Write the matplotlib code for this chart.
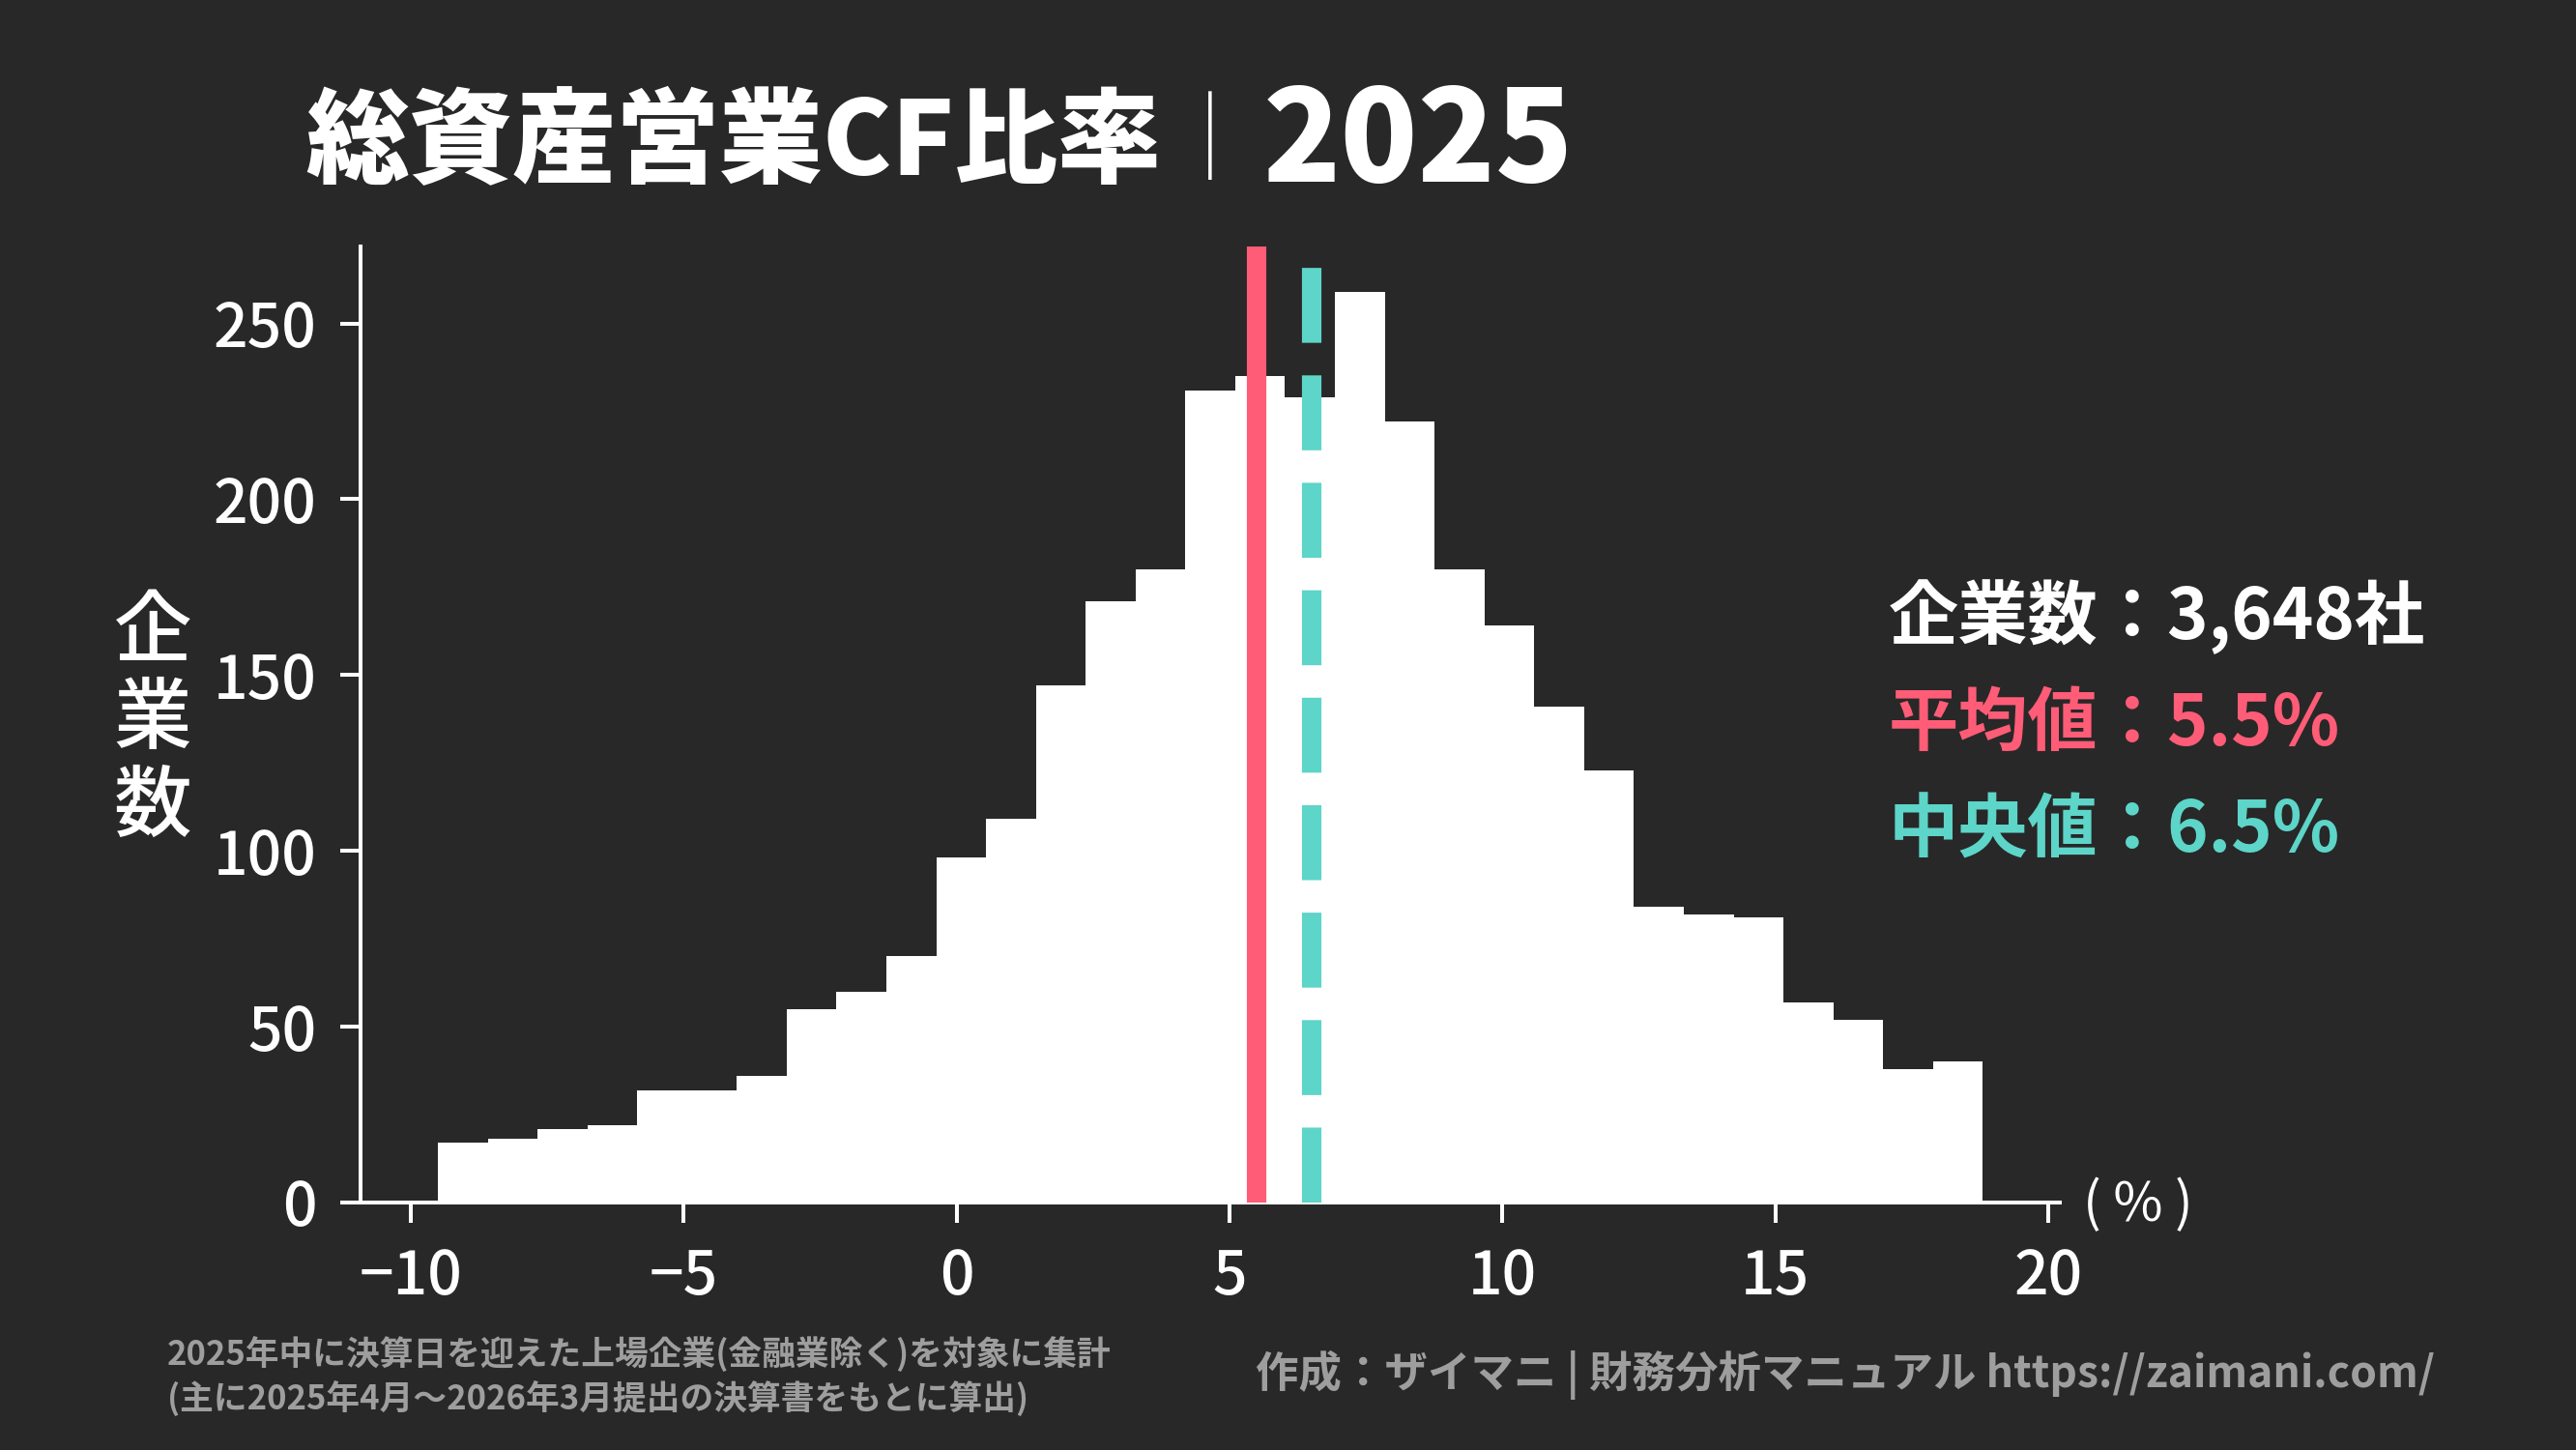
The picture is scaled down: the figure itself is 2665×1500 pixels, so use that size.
import numpy as np
import matplotlib
matplotlib.use("Agg")
import matplotlib.pyplot as plt

plt.rcParams['font.family'] = ['Noto Sans CJK JP', 'DejaVu Sans']

# ---- data ----
bin_range = (-9.5, 18.8)
n_bins = 31
counts = [17, 18, 21, 22, 32, 32, 36, 55, 60, 70, 98, 109, 147, 171, 180,
          231, 235, 229, 259, 222, 180, 164, 141, 123, 84, 82, 81, 57, 52, 38, 40]
mean_val = 5.5
median_val = 6.5
n_companies = 3648
title_main = "総資産営業CF比率"
title_year = "2025"
ylabel = "企業数"
xunit = "( % )"
note_left = "2025年中に決算日を迎えた上場企業(金融業除く)を対象に集計\n(主に2025年4月～2026年3月提出の決算書をもとに算出)"
note_right = "作成：ザイマニ | 財務分析マニュアル https://zaimani.com/"

BG = '#282828'
RED = '#FF5C77'
TEAL = '#5DD5C8'
GRAY = '#9E9E9E'

edges = np.linspace(bin_range[0], bin_range[1], n_bins + 1)

fig = plt.figure(figsize=(26.65, 15), dpi=100, facecolor=BG)
ax = fig.add_axes([0.14, 0.1707, 0.6597, 0.6595])
ax.set_facecolor(BG)

ax.bar(edges[:-1], counts, width=np.diff(edges), align='edge',
       color='white', linewidth=0, zorder=2)
ax.axvline(mean_val, color=RED, lw=14.5, zorder=3)
ax.axvline(median_val, color=TEAL, lw=14.5, zorder=3,
           linestyle=(0, (3.85, 1.67)))

for s in ['top', 'right']:
    ax.spines[s].set_visible(False)
for s in ['left', 'bottom']:
    ax.spines[s].set_color('white')
    ax.spines[s].set_linewidth(2.9)
ax.tick_params(colors='white', width=2.9, length=15, labelsize=45, pad=18)
ax.set_xticks([-10, -5, 0, 5, 10, 15, 20])
ax.set_yticks([0, 50, 100, 150, 200, 250])
for lab in ax.get_xticklabels() + ax.get_yticklabels():
    lab.set_fontweight('medium')

# title
fig.text(316 / 2665, 1 - 149 / 1500, title_main, fontsize=77, weight='heavy',
         color='white', ha='left', va='center')
fig.text(1252 / 2665, 1 - 149 / 1500, "｜", fontsize=66, weight='light',
         color='white', ha='center', va='center')
fig.text(1307 / 2665, 1 - 149 / 1500, title_year, fontsize=95, weight='heavy',
         color='white', ha='left', va='center')

# y label (stacked)
fig.text(158 / 2665, 1 - 745 / 1500, "\n".join(ylabel), fontsize=58,
         color='white', ha='center', va='center', linespacing=1.12,
         weight='medium')
# x unit
fig.text(2155 / 2665, 1 - 1247 / 1500, xunit, fontsize=40, color='white',
         ha='left', va='center')

# stats
fig.text(1954 / 2665, 1 - 638 / 1500, f"企業数：{n_companies:,}社", fontsize=52,
         color='white', ha='left', va='center', weight='bold')
fig.text(1954 / 2665, 1 - 750 / 1500, f"平均値：{mean_val:.1f}%", fontsize=52,
         color=RED, ha='left', va='center', weight='bold')
fig.text(1954 / 2665, 1 - 860 / 1500, f"中央値：{median_val:.1f}%", fontsize=52,
         color=TEAL, ha='left', va='center', weight='bold')

# footers
fig.text(173 / 2665, 1 - 1424 / 1500, note_left, fontsize=25, color=GRAY,
         ha='left', va='center', weight='bold', linespacing=1.3)
fig.text(2519 / 2665, 1 - 1422 / 1500, note_right, fontsize=32, color=GRAY,
         ha='right', va='center', weight='bold')

fig.savefig("out.png", dpi=100, facecolor=BG)
